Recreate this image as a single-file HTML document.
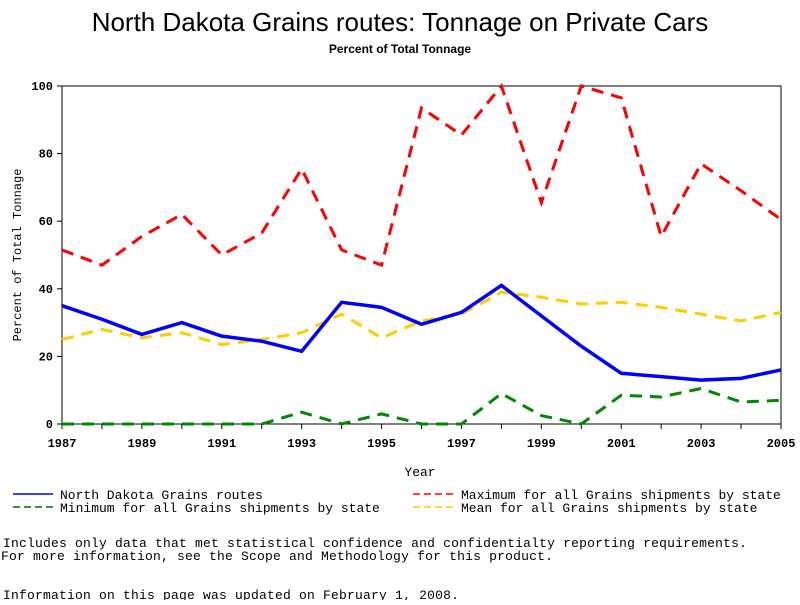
<!DOCTYPE html>
<html><head><meta charset="utf-8"><style>
body{margin:0;background:#fff;width:800px;height:600px;overflow:hidden}
svg text{font-family:"Liberation Mono",monospace;fill:#000}
</style></head><body>
<svg width="800" height="600">
<text x="400" y="31" text-anchor="middle" style="font-family:'Liberation Sans',sans-serif;font-size:26px">North Dakota Grains routes: Tonnage on Private Cars</text>
<text x="400" y="53" text-anchor="middle" style="font-family:'Liberation Sans',sans-serif;font-size:12px;font-weight:bold">Percent of Total Tonnage</text>
<rect x="62" y="86" width="719" height="338" fill="none" stroke="#000" stroke-width="1"/>
<g id="axes"></g>
<g id="series"></g>
<text x="420" y="476" text-anchor="middle" font-size="13">Year</text>
<text transform="translate(21,255) rotate(-90)" text-anchor="middle" font-size="12">Percent of Total Tonnage</text>
<g font-size="13">
<line x1="13" y1="494" x2="53" y2="494" stroke="#00f" stroke-width="1.5"/>
<text x="60" y="499">North Dakota Grains routes</text>
<line x1="413" y1="494" x2="453" y2="494" stroke="#f00" stroke-width="1.5" stroke-dasharray="7,4"/>
<text x="461" y="499">Maximum for all Grains shipments by state</text>
<line x1="13" y1="507" x2="53" y2="507" stroke="#060" stroke-width="1.5" stroke-dasharray="7,4"/>
<text x="60" y="512">Minimum for all Grains shipments by state</text>
<line x1="413" y1="507" x2="453" y2="507" stroke="#fc0" stroke-width="1.5" stroke-dasharray="7,4"/>
<text x="461" y="512">Mean for all Grains shipments by state</text>
</g>
<text x="3" y="547" font-size="13" letter-spacing="0.2">Includes only data that met statistical confidence and confidentialty reporting requirements.</text>
<text x="1" y="560" font-size="13" letter-spacing="0.2">For more information, see the Scope and Methodology for this product.</text>
<text x="3" y="599" font-size="13" letter-spacing="0.2">Information on this page was updated on February 1, 2008.</text>
</svg>
<script>
const years=[1987,1988,1989,1990,1991,1992,1993,1994,1995,1996,1997,1998,1999,2000,2001,2002,2003,2004,2005];
const ndValues=[35,31,26.5,30,26,24.5,21.5,36,34.5,29.5,33,41,32,23,15,14,13,13.5,16];
const maxValues=[51.5,47,55.5,62,50,56.5,75.5,51.5,47,93.5,85.5,100,65.5,100,96.5,55.5,77,69,60.5];
const minValues=[0,0,0,0,0,0,3.5,0,3,0,0,9,2.5,0,8.5,8,10.5,6.5,7];
const meanValues=[25,28,25.5,27,23.5,25,27,32.5,25.5,30.5,32.5,39,37.5,35.5,36,34.5,32.5,30.5,33];
const yTicks=[0,20,40,60,80,100];
const xTickLabels=[1987,1989,1991,1993,1995,1997,1999,2001,2003,2005];
const NS="http://www.w3.org/2000/svg";
const X=v=>62+(v-1987)/(2005-1987)*719;
const Y=v=>424-v/100*338;
const axes=document.getElementById('axes'),ser=document.getElementById('series');
function mk(tag,attrs,parent){const e=document.createElementNS(NS,tag);for(const k in attrs)e.setAttribute(k,attrs[k]);parent.appendChild(e);return e;}
yTicks.forEach(t=>{
 const l=mk('line',{x1:57,x2:62,y1:Y(t),y2:Y(t),stroke:'#000'},axes);
 
 
 const tx=mk('text',{x:53,y:Y(t)+4,'text-anchor':'end','font-size':12,'font-weight':'bold'},axes);
 tx.textContent=t;
 
 
});
years.forEach(y=>{
 const l=mk('line',{x1:X(y),x2:X(y),y1:424,y2:429,stroke:'#000'},axes);
 
 
});
xTickLabels.forEach(y=>{
 const tx=mk('text',{x:X(y),y:447,'text-anchor':'middle','font-size':12,'font-weight':'bold'},axes);
 tx.textContent=y;
 
 
});
function line(vals,color,dash,w,name){
 const p=mk('polyline',{points:vals.map((v,i)=>X(years[i])+','+Y(v)).join(' '),fill:'none',stroke:color,'stroke-width':w,'stroke-dasharray':dash},ser);
 
 
}
line(maxValues,'#f00','12,8',3,'series-max');
line(minValues,'#080','12,8',3,'series-min');
line(meanValues,'#fc0','12,8',3,'series-mean');
line(ndValues,'#00f','none',3.5,'series-nd');
</script>
</body></html>
